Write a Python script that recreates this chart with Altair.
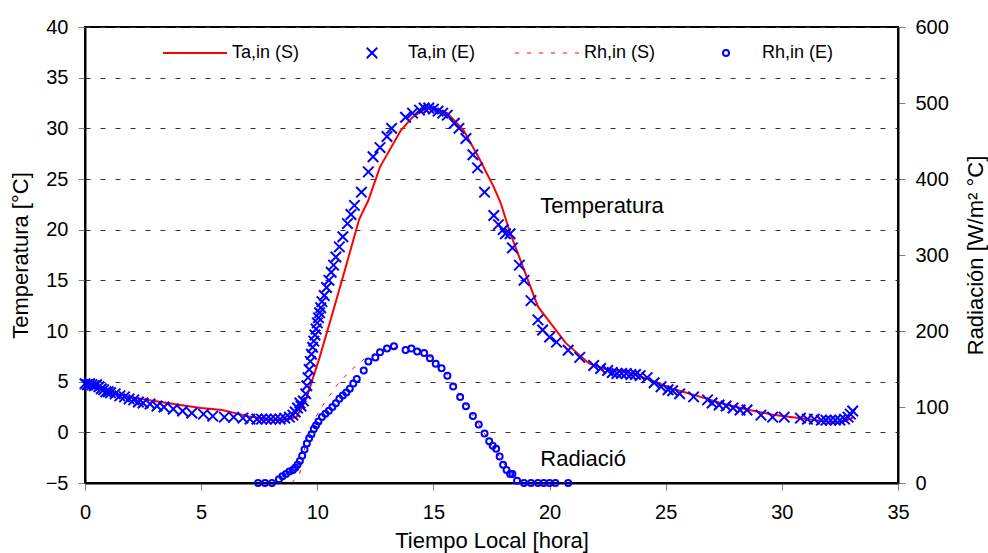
import altair as alt
import pandas as pd

# ---------------- data ----------------
# Ta,in (S): simulated indoor air temperature [°C]
ta_s_t = [0.0, 0.5, 1.0, 1.9, 3.0, 4.1, 5.0, 5.9, 7.0, 8.1, 8.7, 9.1, 9.3, 9.55,
          10.1, 10.6, 11.1, 11.8, 12.2, 12.7, 13.6, 14.1, 14.7, 15.0, 15.6, 16.3,
          17.0, 17.6, 17.9, 18.3, 19.5, 20.7, 21.7, 22.3, 23.3, 24.3, 25.3, 26.5,
          27.5, 28.6, 29.7, 30.8, 32.2, 32.7, 33.1]
ta_s_v = [4.9, 4.5, 4.0, 3.5, 3.1, 2.7, 2.4, 2.2, 1.6, 1.2, 1.3, 1.5, 2.3, 3.5,
          7.4, 11.3, 15.3, 21.0, 22.9, 26.2, 29.8, 31.1, 32.0, 32.0, 31.5, 29.8,
          26.9, 24.2, 22.6, 19.7, 12.4, 8.8, 6.8, 6.3, 6.0, 5.2, 4.3, 3.5,
          2.8, 2.2, 1.7, 1.4, 1.0, 1.1, 1.5]

# Ta,in (E): measured indoor air temperature [°C]
ta_e_t = [0.0, 0.1, 0.2, 0.3, 0.4, 0.5, 0.6, 0.7, 0.8, 0.9, 1.0, 1.1, 1.3, 1.5,
          1.7, 1.9, 2.1, 2.3, 2.5, 2.8, 3.1, 3.4, 3.8, 4.2, 4.6, 5.1, 5.5, 6.0,
          6.4, 6.8, 7.1, 7.4, 7.6, 7.8, 8.0, 8.2, 8.4, 8.6, 8.8, 8.95, 9.05, 9.15,
          9.25, 9.3, 9.4, 9.5, 9.55, 9.6, 9.65, 9.7, 9.75, 9.8, 9.85, 9.9, 9.95,
          10.0, 10.05, 10.1, 10.15, 10.2, 10.3, 10.4, 10.5, 10.6, 10.7, 10.8,
          10.95, 11.1, 11.3, 11.45, 11.6, 11.9, 12.2, 12.4, 12.7, 13.0, 13.2,
          13.8, 14.1, 14.4, 14.6, 14.8, 15.0, 15.2, 15.4, 15.6, 15.9, 16.1, 16.4,
          16.7, 16.9, 17.2, 17.6, 17.8, 18.0, 18.1, 18.3, 18.4, 18.7, 18.9, 19.2,
          19.5, 19.7, 20.0, 20.3, 20.8, 21.3, 21.9, 22.2, 22.5, 22.7, 22.9, 23.1,
          23.3, 23.5, 23.7, 23.9, 24.2, 24.5, 24.8, 25.1, 25.3, 25.6, 26.2, 26.8,
          27.0, 27.3, 27.6, 27.9, 28.2, 28.5, 29.1, 29.6, 30.1, 30.8, 31.1, 31.4,
          31.7, 31.9, 32.1, 32.3, 32.5, 32.7, 32.85, 32.95, 33.05]
ta_e_v = [4.8, 4.7, 4.8, 4.7, 4.6, 4.7, 4.5, 4.3, 4.2, 4.0, 4.0, 3.9, 3.8, 3.6,
          3.5, 3.3, 3.2, 3.0, 2.9, 2.8, 2.6, 2.5, 2.3, 2.1, 1.9, 1.8, 1.6, 1.5,
          1.5, 1.4, 1.3, 1.3, 1.3, 1.3, 1.3, 1.3, 1.3, 1.4, 1.5, 1.7, 2.0, 2.4,
          2.9, 2.6, 3.1, 3.8, 4.6, 5.4, 6.2, 7.0, 7.7, 8.4, 9.0, 9.6, 10.2,
          10.8, 11.3, 11.8, 12.3, 12.9, 13.5, 14.3, 15.0, 15.8, 16.5, 17.3,
          18.3, 19.3, 20.6, 21.5, 22.4, 23.7, 25.7, 27.2, 28.1, 29.2, 30.0,
          31.1, 31.5, 31.8, 32.0, 32.0, 31.9, 31.7, 31.5, 31.3, 30.5, 30.0, 29.0,
          27.4, 26.1, 23.7, 21.4, 20.5, 20.0, 19.6, 19.6, 18.2, 16.5, 15.0, 13.0,
          11.1, 10.1, 9.4, 8.9, 8.1, 7.4, 6.6, 6.3, 6.1, 5.9, 5.8, 5.8,
          5.8, 5.7, 5.7, 5.6, 5.4, 4.9, 4.5, 4.2, 4.1, 3.8, 3.5, 3.2,
          2.9, 2.7, 2.6, 2.4, 2.2, 2.2, 1.7, 1.5, 1.5, 1.4, 1.3, 1.3,
          1.2, 1.2, 1.2, 1.2, 1.2, 1.3, 1.5, 1.8, 2.1]

# Rh,in (S): simulated radiation [W/m²]
rh_s_t = [8.9, 9.25, 9.55, 9.9, 10.3, 10.85, 11.4, 12.05, 12.8, 13.6, 14.3, 14.9,
          15.5, 16.0, 16.5, 17.0, 17.5, 18.0, 18.4, 18.8]
rh_s_v = [0, 13, 60, 85, 105, 129, 147, 164, 175, 180, 176, 165,
          147, 122, 98, 75, 50, 27, 10, 0]

# Rh,in (E): measured radiation [W/m²]
rh_e_t = [7.45, 7.75, 8.05, 8.35, 8.5, 8.65, 8.8, 8.95, 9.05, 9.15, 9.25, 9.35,
          9.45, 9.55, 9.65, 9.75, 9.85, 9.95, 10.05, 10.2, 10.35, 10.5, 10.65,
          10.8, 10.95, 11.1, 11.25, 11.4, 11.55, 11.7, 12.0, 12.2, 12.5, 12.7,
          13.0, 13.3, 13.8, 14.05, 14.3, 14.6, 14.85, 15.1, 15.35, 15.6, 15.85,
          16.15, 16.4, 16.7, 16.95, 17.2, 17.4, 17.55, 17.7, 17.85, 18.0, 18.15,
          18.3, 18.4, 18.6, 18.9, 19.2, 19.5, 19.75, 20.0, 20.25, 20.8]
rh_e_v = [0, 0, 0, 5, 9, 12, 15, 17, 20, 24, 29, 36,
          44, 52, 59, 64, 71, 76, 81, 87, 91, 95, 100,
          105, 111, 115, 119, 124, 131, 137, 148, 160, 165, 172,
          177, 180, 175, 177, 173, 171, 164, 157, 151, 141, 127,
          113, 101, 88, 77, 65, 55, 49, 45, 35, 24, 17,
          12, 12, 3, 0, 0, 0, 0, 0, 0, 0]

legend_labels = ["Ta,in (S)", "Ta,in (E)", "Rh,in (S)", "Rh,in (E)"]
x_ticks = [0, 5, 10, 15, 20, 25, 30, 35]
t_ticks = [-5, 0, 5, 10, 15, 20, 25, 30, 35, 40]
r_ticks = [0, 100, 200, 300, 400, 500, 600]

# ---------------- chart ----------------
FONT = "Liberation Sans"
W, H = 813, 456
RED, BLUE = "#ff0000", "#0000ff"
XSHAPE = "M-1,-1L1,1M-1,1L1,-1"

df_ta_s = pd.DataFrame({"t": ta_s_t, "T": ta_s_v})
df_ta_e = pd.DataFrame({"t": ta_e_t, "T": ta_e_v})
df_rh_s = pd.DataFrame({"t": rh_s_t, "R": rh_s_v})
df_rh_e = pd.DataFrame({"t": rh_e_t, "R": rh_e_v})

common_axis = dict(labelFont=FONT, titleFont=FONT, labelFontSize=20, titleFontSize=22,
                   labelColor="black", titleColor="black", titleFontWeight="normal",
                   tickColor="#808080", tickSize=7, domainColor="black", domainWidth=2,
                   labelFlush=False, labelOverlap=False)

X = alt.X("t:Q", scale=alt.Scale(domain=[0, 35], nice=False, zero=False),
          axis=alt.Axis(values=x_ticks, title="Tiempo Local [hora]", grid=False,
                        labelPadding=12, titleX=W / 2, titleY=57,
                        titleBaseline="middle", **common_axis))
YT = alt.Y("T:Q", scale=alt.Scale(domain=[-5, 40], nice=False, zero=False),
           axis=alt.Axis(values=t_ticks, title="Temperatura [°C]", orient="left",
                         grid=True, gridDash=[5, 10], gridColor="#333333", gridWidth=1,
                         labelPadding=10, titleX=-65, titleY=H / 2, titleAngle=270,
                         titleAlign="center", titleBaseline="middle", **common_axis))
YR = alt.Y("R:Q", scale=alt.Scale(domain=[0, 600], nice=False, zero=False),
           axis=alt.Axis(values=r_ticks, title="Radiación [W/m² °C]", orient="right",
                         grid=False, labelPadding=10, titleX=77, titleY=H / 2,
                         titleAngle=270, titleAlign="center", titleBaseline="middle",
                         **common_axis))

ta_line = alt.Chart(df_ta_s).mark_line(color=RED, strokeWidth=2).encode(x=X, y=YT)
ta_pts = alt.Chart(df_ta_e).mark_point(shape=XSHAPE, filled=False, color=BLUE,
                                       strokeWidth=2, size=110, opacity=1).encode(x=X, y=YT)
ta_text = alt.Chart(pd.DataFrame({"t": [19.6], "T": [22.3], "lab": ["Temperatura"]})).mark_text(
    font=FONT, fontSize=22, align="left", baseline="middle", color="black").encode(
    x=X, y=YT, text="lab:N")
temp_layer = alt.layer(ta_line, ta_pts, ta_text)

rh_line = alt.Chart(df_rh_s).mark_line(color=RED, strokeWidth=1, strokeDash=[4, 8]).encode(x=X, y=YR)
rh_pts = alt.Chart(df_rh_e).mark_point(shape="circle", filled=False, color=BLUE,
                                       strokeWidth=2, size=36, opacity=1).encode(x=X, y=YR)
rh_text = alt.Chart(pd.DataFrame({"t": [19.6], "R": [32], "lab": ["Radiació"]})).mark_text(
    font=FONT, fontSize=22, align="left", baseline="middle", color="black").encode(
    x=X, y=YR, text="lab:N")
rad_layer = alt.layer(rh_line, rh_pts, rh_text)

# manual legend (layout positions in pixels inside the plot area)
one = pd.DataFrame({"k": [0]})
LY = 26
leg = [
    alt.Chart(one).mark_rule(color=RED, strokeWidth=2).encode(
        x=alt.value(78), x2=alt.value(142), y=alt.value(LY)),
    alt.Chart(one).mark_point(shape=XSHAPE, filled=False, color=BLUE, strokeWidth=2,
                              size=110, opacity=1).encode(x=alt.value(287), y=alt.value(LY)),
    alt.Chart(one).mark_rule(color=RED, strokeWidth=1, strokeDash=[4, 8]).encode(
        x=alt.value(430), x2=alt.value(495), y=alt.value(LY)),
    alt.Chart(one).mark_point(shape="circle", filled=False, color=BLUE, strokeWidth=2,
                              size=36, opacity=1).encode(x=alt.value(641), y=alt.value(LY)),
]
for lab, xp in zip(legend_labels, [147, 323, 499, 677]):
    leg.append(alt.Chart(one).mark_text(font=FONT, fontSize=18, align="left",
                                        baseline="middle", color="black").encode(
        x=alt.value(xp), y=alt.value(LY), text=alt.value(lab)))
legend_layer = alt.layer(*leg)

chart = alt.layer(temp_layer, rad_layer, legend_layer).resolve_scale(y="independent").properties(
    width=W, height=H,
    autosize=alt.AutoSizeParams(type="none"),
    padding={"left": 85, "top": 27, "right": 90, "bottom": 70},
    background="white",
).configure_view(stroke="black", strokeWidth=2)

chart.save("out.html", embed_options={"renderer": "svg", "actions": False})
